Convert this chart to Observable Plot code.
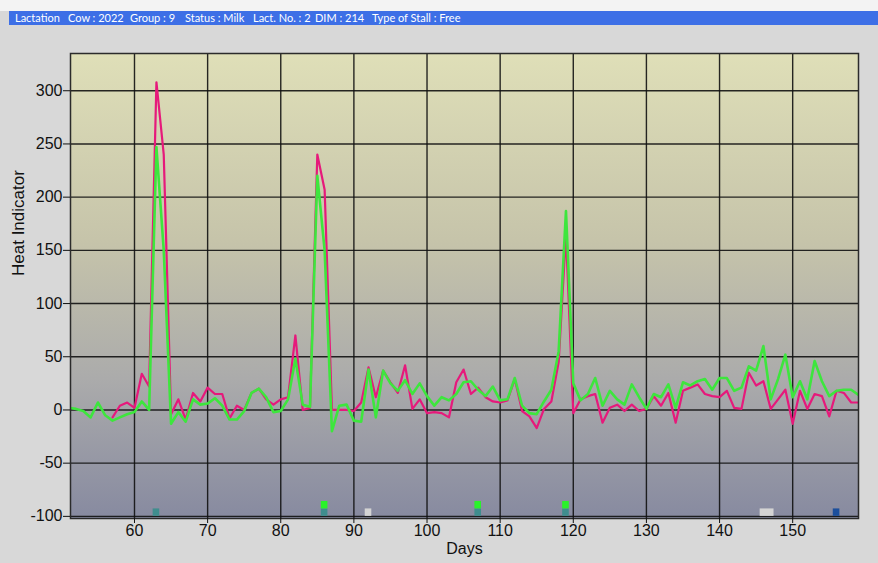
<!DOCTYPE html>
<html><head><meta charset="utf-8">
<script src="https://cdn.jsdelivr.net/npm/d3@7"></script>
<script src="https://cdn.jsdelivr.net/npm/@observablehq/plot@0.6"></script>
<style>
html,body{margin:0;padding:0;}
body{width:878px;height:563px;background:#d8d8d8;position:relative;overflow:hidden;font-family:"Liberation Sans",Arial,sans-serif;}
#topwhite{position:absolute;left:0;top:0;width:878px;height:11px;background:#f3f3f3;}
#bar{position:absolute;left:9px;top:11px;width:869px;height:14px;background:#3d6fe6;}
#bar span{position:absolute;top:0;color:#fff;font-family:Lato,"Noto Sans",sans-serif;font-size:11px;line-height:14px;white-space:nowrap;}
#chart{position:absolute;left:0;top:25px;}
</style></head>
<body>
<div id="topwhite"></div>
<div id="bar"></div>
<div id="chart"></div>
<script>
// ---- header fields ----
const headerItems = ["Lactation", "Cow : 2022", "Group : 9", "Status : Milk", "Lact. No. : 2", "DIM : 214", "Type of Stall : Free"];
const headerX = [6, 59, 121, 176, 244, 306, 363];

// ---- data ----
const greenStartDay = 51;
const greenValues = [2, 1, -1, -7, 7, -5, -10, -7, -4, -2, 8, 0, 247, 150, -13, -2, -11, 10, 5, 6,
  11, 4, -9, -9, -1, 16, 20, 12, -2, -1, 10, 48, 5, 3, 220, 150, -20, 4, 5, -10,
  -11, 38, -7, 37, 25, 18, 28, 15, 25, 13, 4, 12, 9, 15, 26, 27, 19, 13, 22, 9,
  10, 30, 4, -3, -4, 8, 19, 55, 187, 25, 9, 15, 30, 4, 18, 10, 5, 24, 12, 1,
  15, 12, 24, 2, 26, 23, 27, 29, 19, 30, 30, 18, 21, 41, 37, 60, 10, 29, 52, 12,
  27, 10, 46, 27, 13, 18, 19, 19, 14];
const pinkStartDay = 57;
const pinkValues = [-7, 4, 7, 2, 34, 22, 308, 240, -4, 10, -9, 16, 8, 21, 15, 15, -8, 4, 0, 16,
  20, 10, 5, 10, 12, 70, 0, 2, 240, 207, 0, 0, 0, -1, 7, 40, 12, 37, 26, 16,
  42, 1, 10, -3, -2, -3, -7, 26, 38, 15, 21, 12, 8, 7, 9, 29, -1, -6, -17, 1,
  8, 45, 165, -3, 10, 13, 15, -12, 2, 5, -1, 5, -1, 1, 13, 4, 16, -12, 18, 21,
  24, 15, 13, 12, 18, 2, 1, 35, 23, 27, 1, 10, 19, -13, 18, 1, 15, 13, -6, 18,
  16, 7, 7];

// event markers along the bottom
const lowMarkerStart = [63, 86, 92, 107, 119, 146, 156];
const lowMarkerEnd   = [63, 86, 92, 107, 119, 147, 156];
const lowMarkerType  = ["teal", "teal", "gray", "teal", "teal", "gray", "blue"];
const highMarkerDays = [86, 107, 119];

const xTicks = [60, 70, 80, 90, 100, 110, 120, 130, 140, 150];
const yTicks = [-100, -50, 0, 50, 100, 150, 200, 250, 300];

// ---- header ----
const bar = document.getElementById("bar");
headerItems.forEach((t, i) => {
  const s = document.createElement("span");
  s.textContent = t;
  s.style.left = headerX[i] + "px";
  bar.appendChild(s);
});

// ---- build tables ----
const green = greenValues.map((v, i) => ({day: greenStartDay + i, value: v}));
const pink = pinkValues.map((v, i) => ({day: pinkStartDay + i, value: v}));
const markerColors = {teal: "#3f8d8e", gray: "#d4d4d4", blue: "#1c4f9c", green: "#2af22a"};
const lowMarkers = lowMarkerStart.map((s, i) => ({x1: s - 0.45, x2: lowMarkerEnd[i] + 0.45, y1: -100, y2: -93, c: markerColors[lowMarkerType[i]]}));
const highMarkers = highMarkerDays.map(d => ({x1: d - 0.45, x2: d + 0.45, y1: -93, y2: -86, c: markerColors.green}));

const defsMark = () => {
  const ns = "http://www.w3.org/2000/svg";
  const g = document.createElementNS(ns, "g");
  const defs = document.createElementNS(ns, "defs");
  const lg = document.createElementNS(ns, "linearGradient");
  lg.setAttribute("id", "bgGrad");
  lg.setAttribute("x1", "0"); lg.setAttribute("y1", "0");
  lg.setAttribute("x2", "0"); lg.setAttribute("y2", "1");
  [[0, "#dfdfb8"], [0.4, "#c6c4aa"], [0.7, "#ababab"], [1, "#878aa0"]].forEach(([o, c]) => {
    const st = document.createElementNS(ns, "stop");
    st.setAttribute("offset", o);
    st.setAttribute("stop-color", c);
    lg.appendChild(st);
  });
  defs.appendChild(lg);
  g.appendChild(defs);
  return g;
};

const chart = Plot.plot({
  width: 878,
  height: 538,
  marginLeft: 70,
  marginRight: 20,
  marginTop: 28,
  marginBottom: 45,
  style: {background: "transparent", fontFamily: "Liberation Sans, Arial, sans-serif", color: "#111"},
  x: {domain: [51.25, 159]},
  y: {domain: [-102, 335]},
  color: {type: "identity"},
  marks: [
    defsMark,
    Plot.frame({fill: "url(#bgGrad)", stroke: null}),
    Plot.gridX(xTicks, {stroke: "#111", strokeOpacity: 0.9, strokeWidth: 1.4}),
    Plot.gridY(yTicks, {stroke: "#111", strokeOpacity: 0.9, strokeWidth: 1.4}),
    Plot.rect(lowMarkers, {x1: "x1", x2: "x2", y1: "y1", y2: "y2", fill: "c"}),
    Plot.rect(highMarkers, {x1: "x1", x2: "x2", y1: "y1", y2: "y2", fill: "c"}),
    Plot.line(pink, {x: "day", y: "value", stroke: "#e6197b", strokeWidth: 2.2, clip: true}),
    Plot.line(green, {x: "day", y: "value", stroke: "#3de63d", strokeWidth: 2.6, clip: true}),
    Plot.frame({stroke: "#2b2b2b", strokeWidth: 1.5}),
    Plot.axisX(xTicks, {tickSize: 5, tickPadding: 1, fontSize: 16, label: null, tickFormat: d => d}),
    Plot.axisY(yTicks, {tickSize: 7, tickPadding: 1, fontSize: 16, label: null, tickFormat: d => d}),
    Plot.text(["Heat Indicator"], {frameAnchor: "left", dx: -52, dy: -10, rotate: -90, fontSize: 17, fill: "#111"}),
    Plot.text(["Days"], {frameAnchor: "bottom", dy: 35, fontSize: 16, fill: "#111"})
  ]
});
document.getElementById("chart").appendChild(chart);
</script>
</body></html>
